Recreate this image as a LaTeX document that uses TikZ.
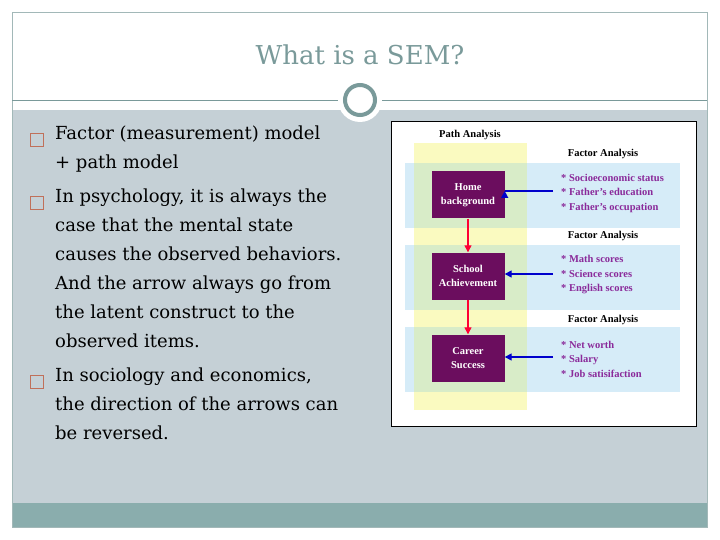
\documentclass[tikz,border=0pt]{standalone}
\usepackage{fontspec}
\setmainfont{Liberation Serif}
\newfontfamily\slidefont{DejaVu Serif}
\usetikzlibrary{arrows.meta}
\definecolor{slidegray}{HTML}{C5D0D6}
\definecolor{teal2}{HTML}{8AADAD}
\definecolor{ringc}{HTML}{7A9A9A}
\definecolor{bul}{HTML}{C0705A}
\definecolor{purp}{HTML}{6B0D5E}
\definecolor{itemc}{HTML}{8A2A9A}
\definecolor{yel}{HTML}{FAFAC0}
\definecolor{blu}{HTML}{D6ECF8}
\definecolor{grn}{HTML}{D8ECC8}
\tikzset{
 body/.style={anchor=north west,align=left,font=\slidefont\fontsize{18}{29}\selectfont,inner sep=0pt},
 bulnode/.style={draw=bul,line width=1pt,minimum size=13pt,inner sep=0pt},
 lat/.style={fill=purp,text=white,minimum width=73pt,minimum height=47pt,align=center,font=\fontsize{10.5}{14}\selectfont\bfseries},
 hdr/.style={font=\fontsize{10.5}{12}\selectfont\bfseries},
 items/.style={anchor=west,align=left,text=itemc,font=\fontsize{10.5}{14.5}\selectfont\bfseries,inner sep=0pt},
 redar/.style={draw=red!80!magenta,line width=1.2pt,-{Triangle[length=7pt,width=7pt]}},
 bluar/.style={draw=blue!80!black,line width=1.4pt,-{Triangle[length=7pt,width=7pt]}}
}
\begin{document}
\begin{tikzpicture}[x=1pt,y=-1pt]
\useasboundingbox (0,0) rectangle (720,540);
\fill[white] (0,0) rectangle (720,540);
\fill[slidegray] (12,110) rectangle (707,503);
\fill[teal2] (12,503) rectangle (707,527);
\draw[ringc!70] (12,12) rectangle (707,527);
\draw[ringc,line width=0.8pt] (12,100) -- (707,100);
\fill[white] (360,100) circle (22);
\draw[ringc,line width=4pt] (360,100) circle (15);
\node[font=\slidefont\fontsize{26}{30}\selectfont,text=ringc] (title) at (360,55) {What is a SEM?};
% bullets
\node[bulnode] (b1) at (37,140) {};
\node[body] (t1) at (55,126) {Factor (measurement) model\\ + path model};
\node[bulnode] (b2) at (37,203) {};
\node[body] (t2) at (55,189) {In psychology, it is always the\\case that the mental state\\causes the observed behaviors.\\And the arrow always go from\\the latent construct to the\\observed items.};
\node[bulnode] (b3) at (37,382) {};
\node[body] (t3) at (55,368) {In sociology and economics,\\the direction of the arrows can\\be reversed.};
% figure
\fill[white] (391,121) rectangle (696,426);
\draw[black,line width=0.8pt] (391,121) rectangle (696,426);
\fill[yel] (414,143) rectangle (527,410);
\foreach \a/\b in {163/228,245/310,327/392}{
 \fill[blu] (405,\a) rectangle (680,\b);
 \fill[grn] (414,\a) rectangle (527,\b);
}
\node[hdr] (pa) at (470,135) {Path Analysis};
\node[hdr] (f1) at (603,154) {Factor Analysis};
\node[hdr] (f2) at (603,236) {Factor Analysis};
\node[hdr] (f3) at (603,320) {Factor Analysis};
\node[lat] (home) at (468,195) {Home\\background};
\node[lat] (school) at (468,276) {School\\Achievement};
\node[lat] (career) at (468,358) {Career\\Success};
\node[items] (i1) at (561,193) {* Socioeconomic status\\* Father's education\\* Father's occupation};
\node[items] (i2) at (561,275) {* Math scores\\* Science scores\\* English scores};
\node[items] (i3) at (561,359) {* Net worth\\* Salary\\* Job satisifaction};
\draw[redar] (home) -- (school);
\draw[redar] (school) -- (career);
\coordinate (a1) at (553,191);
\coordinate (a2) at (553,274);
\coordinate (a3) at (553,357);
\draw[bluar] (a1) -- (a1 -| home.east) ++(0,0);
\draw[bluar] (a2) -- (a2 -| school.east);
\draw[bluar] (a3) -- (a3 -| career.east);
\end{tikzpicture}
\end{document}
